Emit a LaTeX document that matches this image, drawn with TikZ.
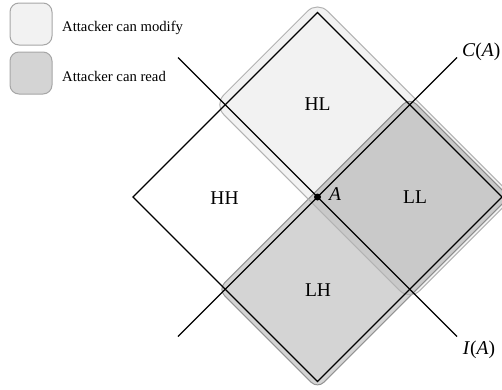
\documentclass[tikz,border=0pt]{standalone}
\usepackage{fontspec}
\setmainfont{Liberation Serif}
\begin{document}
\begin{tikzpicture}[x=1pt,y=-1pt,
  edge/.style={line width=1.2pt, black},
  modregion/.style={fill=black, fill opacity=0.05, draw=black!30, line width=1pt, rounded corners=14pt},
  readregion/.style={fill=black, fill opacity=0.17, draw=black!42, line width=1pt, rounded corners=9pt},
  lab/.style={font=\fontsize{19.5}{22}\selectfont, inner sep=0pt},
  legtext/.style={font=\fontsize{14.7}{17}\selectfont, inner sep=0pt, anchor=base west},
  legbox/.style={minimum width=42pt, minimum height=42pt, rounded corners=9pt, draw=black!35, line width=1pt, inner sep=0pt}
]
\useasboundingbox (0,0) rectangle (502,389);

% legend
\node[legbox, fill=black!5] (modbox) at (31,24) {};
\node[legbox, fill=black!17] (readbox) at (31,73) {};
\node[legtext] (modtext) at (62,31.7) {Attacker can modify};
\node[legtext] (readtext) at (62,81.7) {Attacker can read};

% key points
\coordinate (A) at (317.5,197);
\coordinate (T) at (317.5,12.5);
\coordinate (R) at (502,197);
\coordinate (B) at (317.5,381.5);
\coordinate (L) at (133,197);
\coordinate (cHi) at (457,57.5);
\coordinate (cLo) at (178,336.5);
\coordinate (iHi) at (178,57.5);
\coordinate (iLo) at (457,336.5);

% regions
\draw[readregion] (409.75,97.65) -- (509.1,197) -- (317.5,388.6) -- (218.15,289.25) -- cycle;
\draw[modregion] (317.5,1.2) -- (513.3,197) -- (409.75,300.55) -- (213.95,104.75) -- cycle;

% lattice
\draw[edge] (T) -- (R) -- (B) -- (L) -- cycle;
\draw[edge] (cLo) -- (cHi);
\draw[edge] (iHi) -- (iLo);
\node[circle, fill=black, inner sep=0pt, minimum size=7pt] (dot) at (A) {};

% labels
\node[lab] (hl) at (317.5,104.5) {HL};
\node[lab] (ll) at (415,197) {LL};
\node[lab] (lh) at (318,290) {LH};
\node[lab] (hh) at (224.5,198.5) {HH};
\node[lab, anchor=west] (clab) at (462,52) {\textit{C}(\textit{A})};
\node[lab] (ilab) at (479,350) {\textit{I}(\textit{A})};
\node[lab, anchor=west] (alab) at (329,194) {\textit{A}};
\end{tikzpicture}
\end{document}
